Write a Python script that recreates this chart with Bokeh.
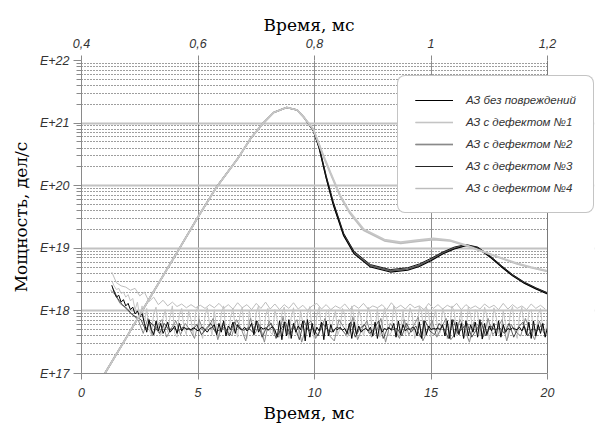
import numpy as np
from bokeh.plotting import figure
from bokeh.models import (Range1d, LinearAxis, FixedTicker, CustomJSTickFormatter,
                          Legend, LegendItem, BoxAnnotation, Span, Title)
from bokeh.embed import file_html
from bokeh.resources import INLINE

# ---------------- data (log10 of power, дел/с) ----------------
legend_labels = ["АЗ без повреждений", "АЗ с дефектом №1", "АЗ с дефектом №2",
                 "АЗ с дефектом №3", "АЗ с дефектом №4"]
axis_title_time = "Время, мс"
axis_title_power = "Мощность, дел/с"

x_ticks = [0, 5, 10, 15, 20]
top_ticks = [0.4, 0.6, 0.8, 1.0, 1.2]
decades = [17, 18, 19, 20, 21, 22]

# smooth power curves (time, ms)
smooth_x_dark = [1.0, 2.0, 3.0, 4.0, 5.0, 5.8, 6.7, 7.25, 7.8, 8.25, 8.8, 9.25, 9.55, 9.95,
                 10.2, 10.5, 10.8, 11.25, 11.7, 12.4, 13.25, 14.0, 14.5, 15.0, 15.5, 16.0,
                 16.5, 17.0, 17.5, 18.0, 18.5, 19.0, 19.5, 20.0]
power_ok = [17.0, 17.62, 18.25, 18.87, 19.5, 19.98, 20.43, 20.75, 21.0, 21.17, 21.25, 21.21,
            21.09, 20.88, 20.6, 20.12, 19.7, 19.2, 18.91, 18.70, 18.62, 18.65, 18.71, 18.8,
            18.91, 18.99, 19.04, 19.0, 18.87, 18.71, 18.56, 18.44, 18.35, 18.27]
power_d2 = [17.0, 17.62, 18.25, 18.87, 19.5, 19.98, 20.43, 20.75, 21.0, 21.17, 21.25, 21.21,
            21.09, 20.88, 20.61, 20.14, 19.72, 19.22, 18.93, 18.72, 18.64, 18.67, 18.73, 18.82,
            18.93, 19.0, 19.05, 19.01, 18.88, 18.72, 18.57, 18.45, 18.36, 18.28]
power_d3 = [17.0, 17.62, 18.25, 18.87, 19.5, 19.98, 20.43, 20.75, 21.0, 21.17, 21.25, 21.21,
            21.09, 20.88, 20.62, 20.16, 19.75, 19.24, 18.95, 18.74, 18.66, 18.69, 18.75, 18.84,
            18.94, 19.02, 19.06, 19.02, 18.89, 18.73, 18.58, 18.46, 18.37, 18.29]

smooth_x_light = [1.0, 2.0, 3.0, 4.0, 5.0, 5.8, 6.7, 7.25, 7.8, 8.25, 8.8, 9.25, 9.55, 9.95,
                  10.4, 10.7, 11.1, 11.5, 12.1, 13.0, 13.7, 14.4, 15.1, 15.8, 16.5, 17.4,
                  18.0, 18.7, 19.3, 20.0]
power_d1 = [17.0, 17.62, 18.25, 18.87, 19.5, 19.98, 20.43, 20.75, 21.0, 21.17, 21.25, 21.21,
            21.09, 20.9, 20.45, 20.18, 19.83, 19.57, 19.29, 19.12, 19.08, 19.11, 19.14, 19.12,
            19.04, 18.92, 18.84, 18.75, 18.69, 18.63]
power_d4 = [17.0, 17.62, 18.25, 18.87, 19.5, 19.98, 20.43, 20.75, 21.0, 21.17, 21.25, 21.21,
            21.09, 20.9, 20.47, 20.2, 19.85, 19.59, 19.31, 19.14, 19.1, 19.13, 19.16, 19.13,
            19.05, 18.93, 18.85, 18.76, 18.7, 18.64]

# detector noise: (first sample time, sample spacing) and log10 values
noise_ok_t = (1.3, 0.1)
noise_ok = [18.41, 18.30, 18.22, 18.25, 18.14, 18.18, 18.08, 18.12, 18.02, 18.06, 17.95, 18.00,
            17.90, 17.96, 17.80,
            17.66, 17.86, 17.70, 17.62, 17.84, 17.68, 17.80, 17.64, 17.72, 17.82, 17.66, 17.70,
            17.76, 17.64, 17.80, 17.68, 17.74, 17.70,
            17.72, 17.70, 17.73, 17.71, 17.68, 17.72, 17.74, 17.70, 17.66, 17.72, 17.73,
            17.78, 17.62, 17.80, 17.66, 17.84, 17.60, 17.76, 17.70, 17.82, 17.64, 17.78, 17.72,
            17.70, 17.74, 17.68, 17.72, 17.80, 17.62, 17.84, 17.66,
            17.74, 17.71, 17.73, 17.69, 17.72, 17.75, 17.70, 17.58, 17.84, 17.54, 17.82, 17.60,
            17.86, 17.56,
            17.80, 17.66, 17.76, 17.70, 17.84, 17.52, 17.86, 17.58, 17.80, 17.62, 17.74, 17.68,
            17.82, 17.54, 17.84, 17.60,
            17.78, 17.66, 17.72, 17.70, 17.74, 17.69, 17.72, 17.64, 17.80, 17.56, 17.82, 17.62,
            17.76, 17.66,
            17.70, 17.72, 17.68, 17.74, 17.60, 17.82, 17.56, 17.78, 17.66, 17.72, 17.70, 17.73,
            17.69, 17.80, 17.58, 17.84,
            17.62, 17.78, 17.68, 17.72, 17.70, 17.74, 17.72, 17.60, 17.82, 17.56, 17.84, 17.62,
            17.76, 17.70, 17.72, 17.71,
            17.73, 17.70, 17.78, 17.60, 17.84, 17.56, 17.86, 17.58, 17.82, 17.62, 17.80, 17.56,
            17.84, 17.60, 17.78, 17.66,
            17.82, 17.58, 17.86, 17.55, 17.80, 17.62, 17.76, 17.68, 17.80, 17.60, 17.84, 17.58,
            17.78, 17.66, 17.72, 17.70,
            17.73, 17.71, 17.70, 17.74, 17.68, 17.76, 17.62, 17.82, 17.56, 17.84, 17.60, 17.78,
            17.64, 17.80, 17.58, 17.74]

noise_d1_t = (1.3, 0.1)
noise_d1 = [18.48, 18.40, 18.34, 18.36, 18.28, 18.30, 18.22, 18.26, 18.16, 18.20, 18.02, 18.14,
            17.90, 18.08, 17.80,
            18.04, 17.70, 17.62, 17.96, 18.06, 17.74, 17.60, 17.88, 18.02, 17.66, 17.90, 18.08,
            17.64, 17.58, 17.94, 18.04, 17.72, 17.62, 18.00, 17.86,
            17.60, 17.98, 18.07, 17.68, 17.56, 17.92, 18.05, 17.78, 17.62, 18.02, 17.70, 17.58,
            17.96, 18.08, 17.66, 17.60, 17.90, 18.04, 17.74, 17.58,
            17.94, 18.06, 17.64, 17.56, 18.00, 17.82, 17.60, 17.98, 18.08, 17.70, 17.55, 17.92,
            18.04, 17.66, 17.62, 18.02, 17.86, 17.58, 17.96, 18.06,
            17.72, 17.56, 17.90, 18.05, 17.64, 17.60, 18.00, 17.80, 17.57, 17.96, 18.07, 17.68,
            17.54, 17.92, 18.06, 17.74, 17.60, 17.98, 18.02, 17.66,
            17.86, 18.00, 17.62, 17.72, 18.04, 17.94, 17.58, 17.64, 18.08, 17.90, 17.66, 18.02,
            17.88, 17.60, 17.74, 18.06, 17.96, 17.62, 17.70, 18.04,
            17.58, 17.74, 18.04, 17.90, 17.60, 17.66, 18.08, 17.96, 17.58, 17.70, 18.02, 17.62,
            17.78, 18.05, 17.92, 17.56, 17.68, 18.07, 17.98, 17.60,
            18.06, 17.96, 17.58, 17.86, 18.02, 17.62, 17.66, 18.04, 17.92, 17.55, 17.70, 18.08,
            17.98, 17.60, 17.82, 18.00, 17.56, 17.64, 18.06, 17.94,
            17.66, 18.02, 17.98, 17.60, 17.74, 18.06, 17.92, 17.54, 17.68, 18.05, 17.90, 17.64,
            17.60, 18.00, 17.80, 17.57, 17.96, 18.07, 17.68, 17.56,
            17.92, 18.06, 17.74, 17.60, 17.98, 18.02, 17.66, 17.58, 17.94, 18.04, 17.70, 17.62,
            17.90]

noise_d2_t = (1.25, 0.2)
noise_d2 = [18.33, 18.26, 18.12, 18.06, 17.98, 17.92, 17.84, 17.64, 17.88, 17.60, 17.76, 17.86,
            17.58, 17.72, 17.84, 17.62, 17.80, 17.70, 17.56, 17.86, 17.66, 17.74, 17.88, 17.54,
            17.80, 17.68, 17.60, 17.86, 17.72, 17.52, 17.88, 17.64, 17.78, 17.50, 17.84, 17.70,
            17.58, 17.90, 17.62, 17.74, 17.86, 17.50, 17.76, 17.84, 17.56, 17.70, 17.88, 17.60,
            17.52, 17.86, 17.74, 17.62, 17.90, 17.54, 17.72, 17.84, 17.58, 17.66, 17.88, 17.50,
            17.80, 17.70, 17.56, 17.86, 17.62, 17.76, 17.90, 17.52, 17.68, 17.84, 17.58, 17.74,
            17.88, 17.54, 17.64, 17.86, 17.70, 17.50, 17.82, 17.76, 17.58, 17.88, 17.62, 17.72,
            17.86, 17.52, 17.78, 17.66, 17.60, 17.88, 17.70, 17.54, 17.84, 17.64]

noise_d3_t = (1.35, 0.2)
noise_d3 = [18.36, 18.20, 18.10, 18.04, 17.95, 17.90, 17.86, 17.70, 17.82, 17.74, 17.64, 17.80,
            17.70, 17.72, 17.68, 17.74, 17.71, 17.69, 17.78, 17.62, 17.72, 17.80, 17.66, 17.70,
            17.74, 17.60, 17.82, 17.72, 17.69, 17.73, 17.66, 17.84, 17.58, 17.74, 17.80, 17.56,
            17.70, 17.82, 17.62, 17.76, 17.54, 17.84, 17.68, 17.72, 17.60, 17.80, 17.70, 17.66,
            17.74, 17.71, 17.62, 17.82, 17.58, 17.72, 17.78, 17.64, 17.70, 17.84, 17.56, 17.74,
            17.70, 17.72, 17.60, 17.80, 17.66, 17.76, 17.58, 17.84, 17.68, 17.62, 17.80, 17.72,
            17.56, 17.86, 17.64, 17.72, 17.80, 17.58, 17.70, 17.82, 17.60, 17.76, 17.70, 17.73,
            17.64, 17.80, 17.58, 17.74, 17.82, 17.60, 17.72, 17.68, 17.78]

noise_d4_t = (1.3, 0.2)
noise_d4 = [18.62, 18.45, 18.40, 18.38, 18.33, 18.36, 18.24, 18.30, 18.15, 18.22, 18.10, 18.17,
            18.08, 18.14, 18.07, 18.11, 18.05, 18.10, 18.05, 18.09, 18.04, 18.10, 18.05, 18.12,
            18.04, 18.10, 18.03, 18.13, 18.05, 18.10, 18.02, 18.12, 18.04, 18.14, 18.03, 18.11,
            18.02, 18.10, 18.04, 18.13, 18.03, 18.09, 18.01, 18.08, 18.12, 18.03, 18.10, 18.02,
            18.08, 18.04, 18.11, 18.02, 18.09, 18.04, 18.12, 18.03, 18.08, 18.05, 18.10, 18.02,
            18.13, 18.04, 18.09, 18.03, 18.11, 18.05, 18.08, 18.02, 18.12, 18.04, 18.10, 18.03,
            18.09, 18.05, 18.12, 18.02, 18.10, 18.04, 18.08, 18.03, 18.11, 18.05, 18.09, 18.02,
            18.12, 18.03, 18.10, 18.04, 18.08, 18.02, 18.11, 18.04, 18.09, 18.03]

# ---------------- layout constants ----------------
FRAME_LEFT, FRAME_RIGHT = 81, 594       # frame spans under the legend too
DATA_RIGHT_PX = 547                     # pixel where t = 20 ms
px_per_unit = (DATA_RIGHT_PX - FRAME_LEFT) / 20.0
x_end = (FRAME_RIGHT - FRAME_LEFT) / px_per_unit
top_start, top_per_unit = 0.4, 0.04

p = figure(width=595, height=426, y_axis_type="log",
           x_range=Range1d(0, x_end), y_range=Range1d(1e17, 1e22),
           output_backend="svg", toolbar_location=None,
           min_border_left=FRAME_LEFT, min_border_right=595 - FRAME_RIGHT,
           min_border_top=60, min_border_bottom=53)
p.background_fill_color = "white"
p.border_fill_color = "white"
p.outline_line_color = None

TICK_FONT = "Liberation Sans"
TITLE_FONT = "DejaVu Serif"
GRAY = "#8a8a8a"

# bottom axis
xa = p.xaxis[0]
xa.ticker = FixedTicker(ticks=x_ticks, minor_ticks=[])
xa.bounds = (0, 20)
xa.axis_line_color = GRAY
xa.major_tick_line_color = GRAY
xa.major_tick_out = 6
xa.major_tick_in = 0
xa.major_label_standoff = 8

# left axis
ya = p.yaxis[0]
ya.ticker = FixedTicker(ticks=[10.0 ** d for d in decades],
                        minor_ticks=[k * 10.0 ** d for d in decades[:-1] for k in range(2, 10)])
ya.formatter = CustomJSTickFormatter(code="return 'E+' + Math.round(Math.log10(tick));")
ya.axis_label = axis_title_power
ya.axis_line_color = GRAY
ya.major_tick_line_color = GRAY
ya.minor_tick_line_color = GRAY
ya.major_tick_out = 8
ya.major_tick_in = 0
ya.minor_tick_out = 5
ya.minor_tick_in = 0
ya.major_label_standoff = 4
ya.axis_label_standoff = 6

# top axis
p.extra_x_ranges = {"top": Range1d(top_start, top_start + top_per_unit * x_end)}
ta = LinearAxis(x_range_name="top",
                ticker=FixedTicker(ticks=top_ticks, minor_ticks=[]),
                formatter=CustomJSTickFormatter(
                    code="var s = tick.toFixed(1); if (s.endsWith('.0')) s = s.slice(0, -2); return s.replace('.', ',');"))
ta.axis_line_color = None
ta.major_tick_line_color = GRAY
ta.major_tick_out = 5
ta.major_tick_in = 0
ta.major_label_standoff = 8
p.add_layout(ta, "above")

for ax in [xa, ya, ta]:
    ax.major_label_text_font = TICK_FONT
    ax.major_label_text_font_style = "italic"
    ax.major_label_text_font_size = "12.5px"
    ax.major_label_text_color = "#333333"
    ax.axis_label_text_font = TITLE_FONT
    ax.axis_label_text_font_style = "normal"
    ax.axis_label_text_font_size = "17px"
    ax.axis_label_text_color = "#000000"

# axis titles for time, left-aligned so they sit centred over the data area
title_offset = 182
for side in ["above", "below"]:
    t = Title(text=axis_title_time, align="left", offset=title_offset,
              text_font=TITLE_FONT, text_font_size="17px", text_font_style="normal",
              text_color="#000000", standoff=2)
    p.add_layout(t, side)

# grids
p.xgrid.ticker = FixedTicker(ticks=x_ticks)
p.xgrid.grid_line_color = "#8f8f8f"
p.xgrid.grid_line_width = 1
p.ygrid.grid_line_color = "#c2c2c2"
p.ygrid.grid_line_width = 2
p.ygrid.minor_grid_line_color = "#3c3c3c"
p.ygrid.minor_grid_line_dash = "1 2"
p.ygrid.minor_grid_line_width = 1
p.ygrid.minor_grid_line_alpha = 1.0

# ---------------- glyphs ----------------
def pw(v):
    return [10.0 ** a for a in v]

def times(t0_step, v):
    t0, dt = t0_step
    return [round(t0 + i * dt, 3) for i in range(len(v))]

# noise: light first, dark on top
n_d1 = p.line(times(noise_d1_t, noise_d1), pw(noise_d1), line_color="#c4c4c4", line_width=1)
n_d4 = p.line(times(noise_d4_t, noise_d4), pw(noise_d4), line_color="#bcbcbc", line_width=1)
n_d2 = p.line(times(noise_d2_t, noise_d2), pw(noise_d2), line_color="#8a8a8a", line_width=1)
n_ok = p.line(times(noise_ok_t, noise_ok), pw(noise_ok), line_color="#000000", line_width=1)
n_d3 = p.line(times(noise_d3_t, noise_d3), pw(noise_d3), line_color="#2a2a2a", line_width=0.8)

# smooth: dark first, light on top
s_d2 = p.line(smooth_x_dark, pw(power_d2), line_color="#5e5e5e", line_width=1.5)
s_ok = p.line(smooth_x_dark, pw(power_ok), line_color="#000000", line_width=1.1)
s_d3 = p.line(smooth_x_dark, pw(power_d3), line_color="#1a1a1a", line_width=1.0)
s_d1 = p.line(smooth_x_light, pw(power_d1), line_color="#bdbdbd", line_width=1.7)
s_d4 = p.line(smooth_x_light, pw(power_d4), line_color="#c6c6c6", line_width=1.7)

# blank area right of t = 20 ms, with the right border line
p.add_layout(BoxAnnotation(left=20, fill_color="white", fill_alpha=1.0, line_color=None))
p.add_layout(Span(location=20, dimension="height", line_color="#7a7a7a", line_width=1))

items = [
    LegendItem(label=legend_labels[0], renderers=[s_ok, n_ok]),
    LegendItem(label=legend_labels[1], renderers=[s_d1, n_d1]),
    LegendItem(label=legend_labels[2], renderers=[s_d2, n_d2]),
    LegendItem(label=legend_labels[3], renderers=[s_d3, n_d3]),
    LegendItem(label=legend_labels[4], renderers=[s_d4, n_d4]),
]
legend = Legend(items=items, location=(316, 160))
legend.label_text_font = TICK_FONT
legend.label_text_font_style = "italic"
legend.label_text_font_size = "11.5px"
legend.label_text_color = "#333333"
legend.glyph_width = 38
legend.glyph_height = 14
legend.label_height = 14
legend.label_standoff = 13
legend.spacing = 8
legend.padding = 17
legend.margin = 0
legend.border_line_color = GRAY
legend.border_line_width = 1
legend.background_fill_color = "white"
legend.background_fill_alpha = 1.0
if "border_radius" in Legend.properties():
    legend.border_radius = 8
p.add_layout(legend, "center")

open("out.html", "w").write(file_html(p, INLINE))
